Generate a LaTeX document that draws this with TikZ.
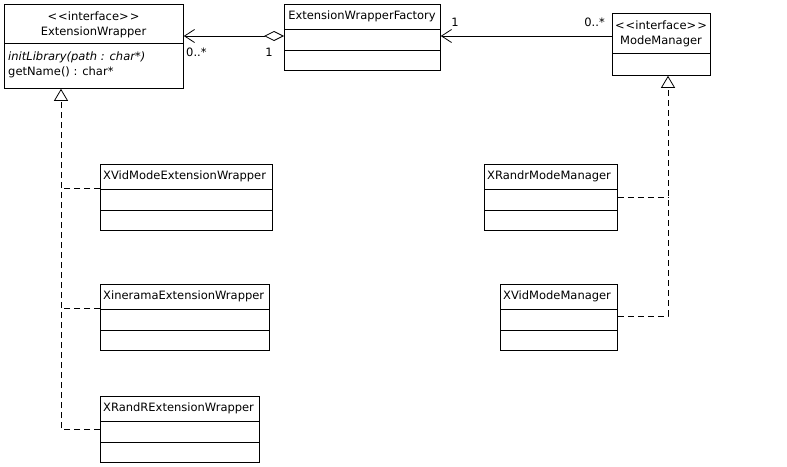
\documentclass[tikz,border=0pt]{standalone}
\usepackage{fontspec}
\setmainfont{DejaVu Sans}
\usetikzlibrary{arrows.meta}

\tikzset{
  box/.style={draw, line width=0.8pt, inner sep=0pt, anchor=north west},
  txt/.style={font=\fontsize{11.5}{13}\selectfont, inner sep=0pt},
  assoc/.style={line width=0.8pt},
  realize/.style={line width=0.8pt, dash pattern=on 6pt off 4pt},
  opentri/.style={-{Triangle[open, length=12pt, width=14pt, line width=0.8pt, fill=white]}},
}

% name, x1, y1, x2, y2, dividers
\newcommand{\classbox}[6]{%
  \node[box, minimum width={(#4-#2)*1pt}, minimum height={(#5-#3)*1pt}] (#1) at (#2,#3) {};
  \foreach \d in {#6} \draw[line width=0.8pt] (#2,\d) -- (#4,\d);
}
\newcommand{\stereo}[1]{<\kern1pt<#1>\kern1pt>}

\begin{document}
\begin{tikzpicture}[x=1pt, y=-1pt]
  \fill[white] (0,0) rectangle (787,466);
  \useasboundingbox (0,0) rectangle (787,466);

  % interfaces and factory
  \classbox{ew}{4}{4}{183}{88}{43}
  \node[txt] (ew-st) at (93.5,16) {\stereo{interface}};
  \node[txt] (ew-t) at (93.5,32) {ExtensionWrapper};
  \node[txt, anchor=west] (ew-op1) at (8,57) {\itshape initLibrary(path : char*)};
  \node[txt, anchor=west] (ew-op2) at (8,72) {getName() : char*};

  \classbox{fac}{284}{4}{440}{70}{29,50}
  \node[txt] (fac-t) at (362,16.5) {ExtensionWrapperFactory};

  \classbox{mm}{612}{13}{710}{75}{53}
  \node[txt] (mm-st) at (661,25) {\stereo{interface}};
  \node[txt] (mm-t) at (661,41) {ModeManager};

  % wrappers
  \classbox{xvid}{100}{164}{272}{230}{189,210}
  \node[txt, anchor=west] (xvid-t) at (103,176.5) {XVidModeExtensionWrapper};
  \classbox{xin}{100}{284}{269}{350}{309,330}
  \node[txt, anchor=west] (xin-t) at (103,296.5) {XineramaExtensionWrapper};
  \classbox{xrr}{100}{396}{259}{462}{421,442}
  \node[txt, anchor=west] (xrr-t) at (103,408.5) {XRandRExtensionWrapper};

  % mode managers
  \classbox{xrm}{484}{164}{617}{230}{189,210}
  \node[txt, anchor=west] (xrm-t) at (487,176.5) {XRandrModeManager};
  \classbox{xvm}{500}{284}{617}{350}{309,330}
  \node[txt, anchor=west] (xvm-t) at (503,296.5) {XVidModeManager};

  % associations
  \draw[assoc, {Straight Barb[length=10pt, width=13pt]}-{Diamond[open, length=20pt, width=10pt, fill=white]}]
    (ew.east |- 0,36) -- (fac.west |- 0,36);
  \draw[assoc, {Straight Barb[length=10pt, width=13pt]}-] (fac.east |- 0,36) -- (mm.west |- 0,36);
  \node[txt, anchor=west] (m1) at (186,52) {0..*};
  \node[txt] (m2) at (269,52) {1};
  \node[txt] (m3) at (455,22) {1};
  \node[txt, anchor=east] (m4) at (605,22) {0..*};

  % realizations
  \coordinate (ewbus) at (61,0 |- ew.south);
  \coordinate (mmbus) at (668,0 |- mm.south);
  \draw[realize, opentri] (xrr.west |- 0,429) -| (ewbus);
  \draw[realize] (xvid.west |- 0,188) -- (ewbus |- 0,188);
  \draw[realize] (xin.west |- 0,308) -- (ewbus |- 0,308);
  \draw[realize, opentri] (xvm.east |- 0,316) -| (mmbus);
  \draw[realize] (xrm.east |- 0,197) -- (mmbus |- 0,197);
\end{tikzpicture}
\end{document}
